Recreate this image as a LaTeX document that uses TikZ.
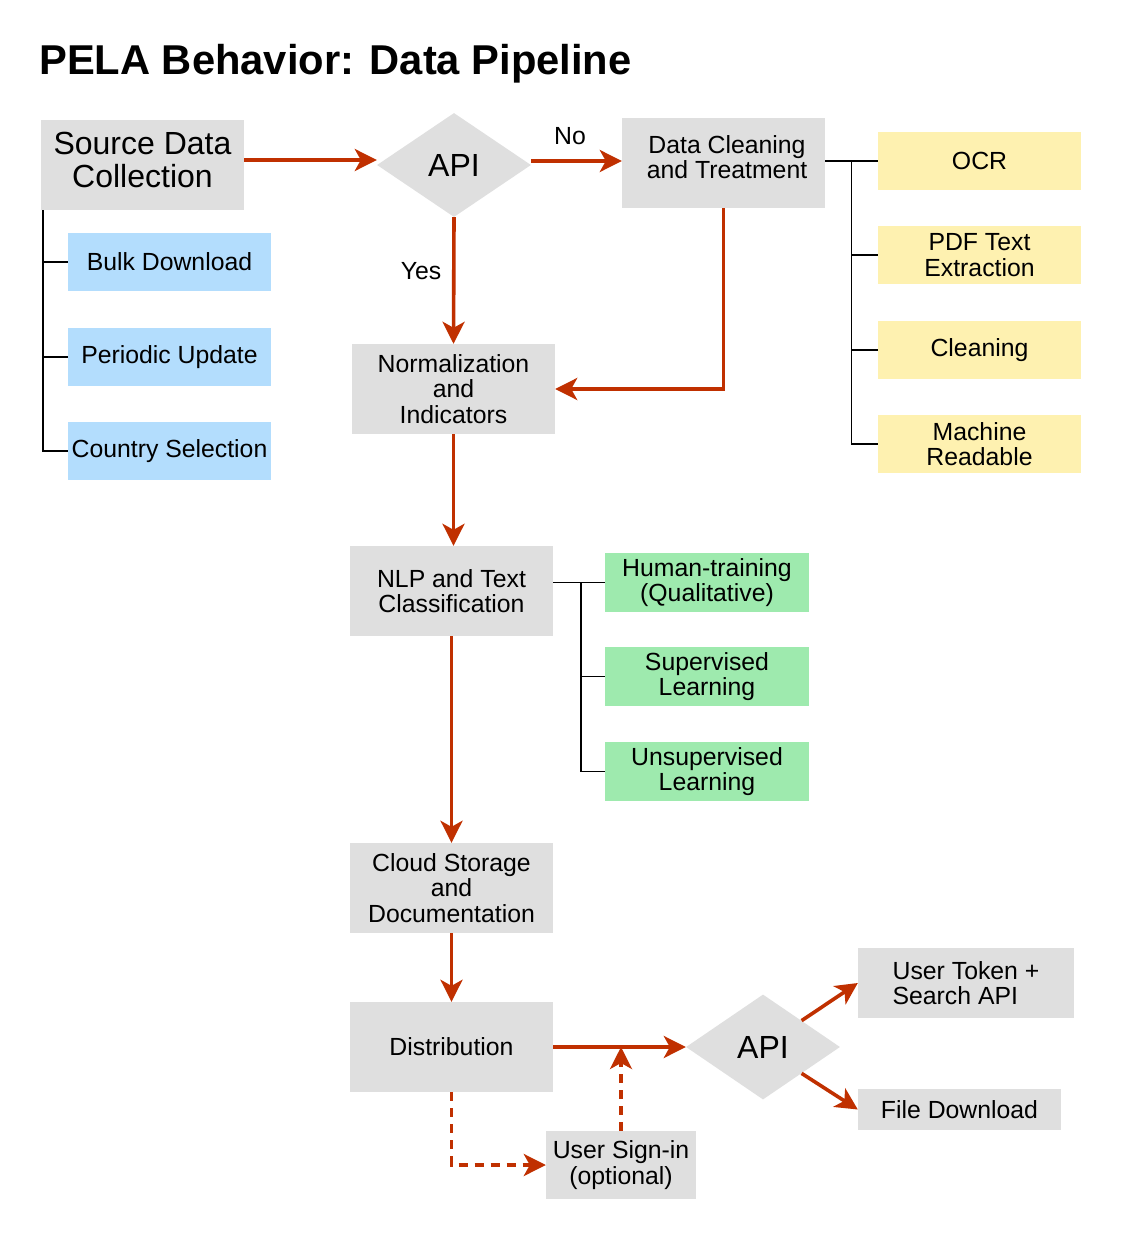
\documentclass[tikz,border=0pt]{standalone}
\usepackage{fontspec}
\setmainfont{Liberation Sans}
\usetikzlibrary{arrows.meta,shapes.geometric,calc}

\definecolor{boxgray}{RGB}{223,223,223}
\definecolor{subblue}{RGB}{179,221,253}
\definecolor{subyellow}{RGB}{254,241,176}
\definecolor{subgreen}{RGB}{158,234,174}
\definecolor{flowred}{RGB}{192,48,0}

\newcommand{\txt}{\fontsize{24.8}{25.4}\selectfont}
\newcommand{\bigtxt}{\fontsize{32}{32.5}\selectfont}

\tikzset{
  x=1pt, y=-1pt,
  box/.style={fill=boxgray, inner sep=0pt, minimum width=203pt, minimum height=90pt,
              align=center, font=\txt},
  sub/.style={inner sep=0pt, minimum width=203pt, minimum height=58pt,
              align=center, font=\txt},
  decide/.style={diamond, fill=boxgray, inner sep=0pt, aspect=1.5,
                 minimum width=154pt, minimum height=104pt, font=\bigtxt},
  flow/.style={draw=flowred, line width=3.6pt,
               -{Stealth[length=22pt,width=22pt,inset=6pt]}},
  optflow/.style={flow, dash pattern=on 9pt off 7pt},
  tree/.style={draw=black, line width=1.6pt},
  lbl/.style={font=\txt, inner sep=0pt}
}

\begin{document}
\begin{tikzpicture}
\useasboundingbox (0,0) rectangle (1123,1241);

% title
\node[anchor=base west, inner sep=0pt, font=\fontsize{41.7}{42}\selectfont\bfseries]
  (title) at (39,75) {PELA Behavior: Data Pipeline};

% main flow boxes (text sits a little above centre in the two top boxes)
\node[box] (src) at (142.5,165) {};
\node[font=\bigtxt, align=center, inner sep=0pt] (srct) at (142.5,160) {Source Data\\Collection};
\node[decide] (api1) at (454,165) {API};
\node[box] (dc) at (723.5,163) {};
\node[font=\txt, align=center, inner sep=0pt] (dct) at (727,157) {Data Cleaning\\and Treatment};
\node[box] (norm) at (453.5,389) {Normalization\\and\\Indicators};
\node[box] (nlp) at (451.5,591) {NLP and Text\\Classification};
\node[box] (cloud) at (451.5,888) {Cloud Storage\\and\\Documentation};
\node[box] (dist) at (451.5,1047) {Distribution};
\node[decide, minimum height=105pt] (api2) at (763,1047) {API};
\node[box, minimum width=216pt, minimum height=70pt, align=left] (tok) at (966,983)
  {User Token +\\Search API};
\node[box, minimum height=41pt] (fd) at (959.5,1109.5) {File Download};
\node[box, minimum width=150pt, minimum height=68pt] (sign) at (621,1165)
  {User Sign-in\\(optional)};

% source options
\node[sub, fill=subblue] (bd) at (169.5,262) {Bulk Download};
\node[sub, fill=subblue] (pu) at (169.5,357) {Periodic Update};
\node[sub, fill=subblue] (cs) at (169.5,451) {Country Selection};

% cleaning steps
\node[sub, fill=subyellow] (ocr) at (979.5,161) {OCR};
\node[sub, fill=subyellow] (pdf) at (979.5,255) {PDF Text\\Extraction};
\node[sub, fill=subyellow] (cln) at (979.5,350) {Cleaning};
\node[sub, fill=subyellow] (mr) at (979.5,444) {Machine\\Readable};

% classification methods
\node[sub, fill=subgreen, minimum width=204pt, minimum height=59pt] (hum) at (707,582.5)
  {Human-training\\(Qualitative)};
\node[sub, fill=subgreen, minimum width=204pt, minimum height=59pt] (sup) at (707,676.5)
  {Supervised\\Learning};
\node[sub, fill=subgreen, minimum width=204pt, minimum height=59pt] (uns) at (707,771.5)
  {Unsupervised\\Learning};

% branch labels
\node[lbl] (nolbl) at (570,136) {No};
\node[lbl] (yeslbl) at (421,271) {Yes};

% flow connectors
\draw[flow] (src.east |- srct.center) -- (api1.west |- srct.center);
\draw[flow] (api1.east |- ocr.west) -- (dc.west |- ocr.west);
\draw[flow] (api1.south) -- (norm.north);
\draw[flow] (dc.south) |- (norm.east);
\draw[flow] (norm.south) -- (norm.south |- nlp.north);
\draw[flow] (nlp.south) -- (cloud.north);
\draw[flow] (cloud.south) -- (dist.north);
\draw[flow] (dist.east) -- (api2.west);
\draw[flow] (api2.north east) -- (tok.west);
\draw[flow] (api2.south east) -- (fd.west);
\draw[optflow] (dist.south) |- (sign.west);
\draw[optflow] (sign.north) -- (sign.north |- dist.east);

% source option bracket
\coordinate (sj) at ([xshift=2pt]src.south west);
\draw[tree] (sj) |- (cs.west);
\draw[tree] (sj |- bd.west) -- (bd.west);
\draw[tree] (sj |- pu.west) -- (pu.west);

% cleaning bracket
\coordinate (cj) at ($(dc.east |- ocr.west)!0.5!(ocr.west)$);
\draw[tree] (dc.east |- ocr.west) -- (ocr.west);
\draw[tree] (cj) |- (mr.west);
\draw[tree] (cj |- pdf.west) -- (pdf.west);
\draw[tree] (cj |- cln.west) -- (cln.west);

% classification bracket
\coordinate (nj) at ($(nlp.east |- hum.west)!0.54!(hum.west)$);
\draw[tree] (nlp.east |- hum.west) -- (hum.west);
\draw[tree] (nj) |- (uns.west);
\draw[tree] (nj |- sup.west) -- (sup.west);
\end{tikzpicture}
\end{document}
